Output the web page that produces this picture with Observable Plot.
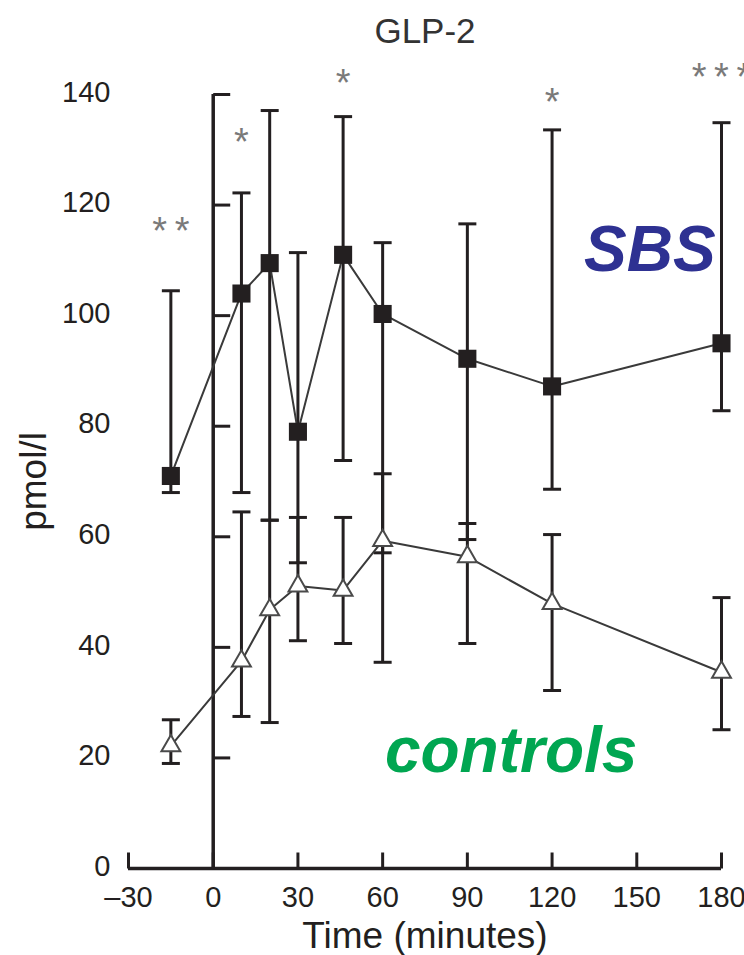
<!DOCTYPE html>
<html><head><meta charset="utf-8">
<script src="https://cdn.jsdelivr.net/npm/d3@7"></script>
<script src="https://cdn.jsdelivr.net/npm/@observablehq/plot@0.6"></script>
<style>body{margin:0;background:#fff}#chart svg{display:block}</style>
</head><body><div id="chart"></div>
<script>
// Time points (minutes)
const times = [-15, 10, 20, 30, 46, 60, 90, 120, 180];
// SBS group (pmol/l): mean, lower and upper error limits
const sbsMean = [71, 104, 109.5, 79, 111, 100.3, 92.2, 87.2, 95];
const sbsLow  = [68, 68, 63, 55.3, 73.8, 57.1, 59.5, 68.6, 82.8];
const sbsHigh = [104.5, 122.2, 137.1, 111.4, 136, 113.2, 116.6, 133.6, 134.9];
// Controls group (pmol/l)
const ctrlMean = [22.2, 37.5, 46.8, 51.1, 50.3, 59.3, 56.4, 47.9, 35.5];
const ctrlLow  = [19, 27.5, 26.4, 41.2, 40.7, 37.3, 40.7, 32.2, 25.1];
const ctrlHigh = [26.9, 64.5, 63, 63.5, 63.5, 71.4, 62.4, 60.4, 49];
// Axes
const xTicks = [-30, 0, 30, 60, 90, 120, 150, 180];
const xTickLabels = ["\u201330", "0", "30", "60", "90", "120", "150", "180"];
const yTicks = [0, 20, 40, 60, 80, 100, 120, 140];
const xDomain = [-30, 180];
const yDomain = [0, 140];
const baselineTime = 0;
// Significance markers
const starTimes = [-15, 10, 46, 120, 180];
const starLevels = [115.1, 131.2, 142.0, 138.5, 143.0];
const starLabels = ["*\u2009*", "*", "*", "*", "*\u2009*\u2009*"];
// Group labels
const groupNames = ["SBS", "controls"];
const groupColors = ["#2e3192", "#00a651"];
const groupLabelTimes = [154.6, 105.5];
const groupLabelLevels = [111.8, 21.2];

const sbs = times.map((t, i) => ({t, m: sbsMean[i], lo: sbsLow[i], hi: sbsHigh[i]}));
const ctrl = times.map((t, i) => ({t, m: ctrlMean[i], lo: ctrlLow[i], hi: ctrlHigh[i]}));
const stars = starTimes.map((t, i) => ({t, y: starLevels[i], label: starLabels[i]}));
const groups = groupNames.map((n, i) => ({n, c: groupColors[i], t: groupLabelTimes[i], y: groupLabelLevels[i]}));

const ink = "#231f20";
const font = "'Liberation Sans', Arial, Helvetica, sans-serif";

const capSym = {draw(ctx, size) { const w = Math.sqrt(size / Math.PI); ctx.moveTo(-w, 0); ctx.lineTo(w, 0); }};
const tickUpSym = {draw(ctx, size) { const w = Math.sqrt(size / Math.PI); ctx.moveTo(0, 0); ctx.lineTo(0, -2 * w); }};
const tickRightSym = {draw(ctx, size) { const w = Math.sqrt(size / Math.PI); ctx.moveTo(0, 0); ctx.lineTo(2 * w, 0); }};

const errorMarks = (data) => [
  Plot.ruleX(data, {x: "t", y1: "lo", y2: "hi", stroke: ink, strokeWidth: 3}),
  Plot.dot(data, {x: "t", y: "lo", symbol: capSym, r: 9, stroke: ink, strokeWidth: 3, fill: "none"}),
  Plot.dot(data, {x: "t", y: "hi", symbol: capSym, r: 9, stroke: ink, strokeWidth: 3, fill: "none"})
];

const chart = Plot.plot({
  width: 744,
  height: 955,
  marginLeft: 128,
  marginRight: 23,
  marginTop: 94,
  marginBottom: 87,
  x: {domain: xDomain, axis: null},
  y: {domain: yDomain, axis: null},
  style: {fontFamily: font, background: "#fff", overflow: "visible"},
  marks: [
    // axes lines
    Plot.ruleY([yDomain[0]], {stroke: ink, strokeWidth: 3.5}),
    Plot.ruleX([baselineTime], {y1: yDomain[0], y2: yDomain[1], stroke: ink, strokeWidth: 3.5}),
    Plot.dot(yTicks.filter(d => d > yDomain[0]), {x: () => baselineTime, y: d => d, symbol: tickRightSym, r: 8.5, stroke: ink, strokeWidth: 3, fill: "none"}),
    Plot.dot(xTicks, {x: d => d, y: () => yDomain[0], symbol: tickUpSym, r: 8, stroke: ink, strokeWidth: 3, fill: "none"}),
    // tick labels
    Plot.text(yTicks, {y: d => d, text: d => String(d), frameAnchor: "left", dx: -18, dy: -2, textAnchor: "end", lineAnchor: "middle", fontSize: 29, fill: ink}),
    Plot.text(xTicks, {x: d => d, text: (d, i) => xTickLabels[i], frameAnchor: "bottom", dy: 29, textAnchor: "middle", lineAnchor: "middle", fontSize: 29, fill: ink}),
    // error bars
    ...errorMarks(sbs),
    ...errorMarks(ctrl),
    // series lines
    Plot.line(sbs, {x: "t", y: "m", stroke: "#3a3a3a", strokeWidth: 2}),
    Plot.line(ctrl, {x: "t", y: "m", stroke: "#3a3a3a", strokeWidth: 2}),
    // markers
    Plot.dot(sbs, {x: "t", y: "m", symbol: "square", r: 10.2, fill: ink, stroke: "none"}),
    Plot.dot(ctrl, {x: "t", y: "m", symbol: "triangle", r: 7, fill: "#fff", stroke: "#4a4a4a", strokeWidth: 2}),
    // significance stars
    Plot.text(stars, {x: "t", y: "y", text: "label", fontSize: 38, fill: "#7a7a7a", textAnchor: "middle", lineAnchor: "middle"}),
    // group labels
    Plot.text(groups, {x: "t", y: "y", text: "n", fill: "c", fontSize: 64, fontWeight: "bold", fontStyle: "italic", textAnchor: "middle", lineAnchor: "middle"}),
    // title and axis labels
    Plot.text(["GLP-2"], {frameAnchor: "top", dy: -63, textAnchor: "middle", lineAnchor: "middle", fontSize: 35, fill: "#333"}),
    Plot.text(["Time (minutes)"], {frameAnchor: "bottom", dy: 68, textAnchor: "middle", lineAnchor: "middle", fontSize: 37, fill: ink}),
    Plot.text(["pmol/l"], {frameAnchor: "left", dx: -94, rotate: -90, textAnchor: "middle", lineAnchor: "middle", fontSize: 37, fill: ink})
  ]
});
document.getElementById("chart").appendChild(chart);
</script>
</body></html>
